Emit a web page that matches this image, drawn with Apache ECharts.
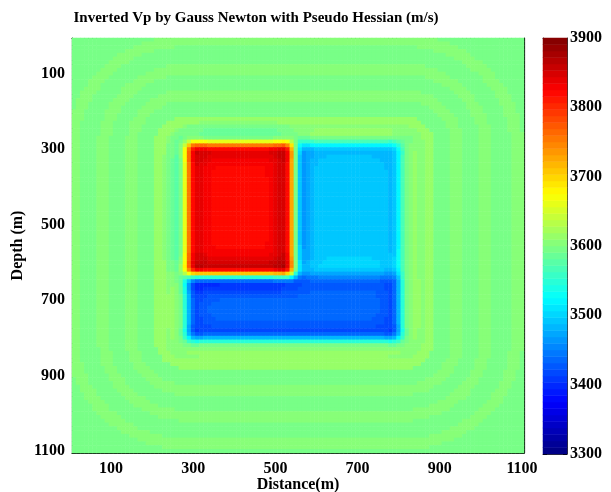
<!DOCTYPE html>
<html>
<head>
<meta charset="utf-8">
<script src="https://cdn.jsdelivr.net/npm/echarts@6/dist/echarts.min.js"></script>
<style>
  html, body { margin: 0; padding: 0; background: #fff; }
  #chart { width: 611px; height: 492px; }
</style>
</head>
<body>
<div id="chart"></div>
<script>
// Grid of the inverted model: 10 m cells, centres 10 … 1100 m
const distanceM = [];
const depthM = [];
for (let v = 10; v <= 1100; v += 10) { distanceM.push(v); depthM.push(v); }

// Background velocity (m/s)
const backgroundVp = 3596;

// Velocity blocks: high-velocity block, low-velocity block, low-velocity bar
const blockX0 = [285, 550, 285];
const blockX1 = [550, 810, 810];
const blockZ0 = [290, 290, 635];
const blockZ1 = [635, 635, 805];
const blockVp = [3822, 3495, 3435];

// Concentric artefact bands around the anomalies: outer edge of each band
// (m from the anomaly outline) and its velocity offset (m/s)
const ringEdge = [30, 52, 78, 119, 148, 187, 216, 262, 292, 400];
const ringDv   = [0, 8, 17, 0, 8, 0, 8, 0, 8, 0];

// Colour scale
const vpMin = 3300, vpMax = 3900, nLevels = 64;
const colorbarTicks = [3300, 3400, 3500, 3600, 3700, 3800, 3900];

// ---- build the velocity field -------------------------------------------
const N = distanceM.length;
const model = [];
for (let j = 0; j < N; j++) {
  const row = [];
  for (let i = 0; i < N; i++) {
    let v = backgroundVp;
    for (let b = 0; b < blockVp.length; b++) {
      if (distanceM[i] >= blockX0[b] && distanceM[i] < blockX1[b] &&
          depthM[j] >= blockZ0[b] && depthM[j] < blockZ1[b]) v = blockVp[b];
    }
    row.push(v);
  }
  model.push(row);
}

function gaussBlur(src, sigma) {
  const r = Math.ceil(sigma * 3);
  const k = [];
  let s = 0;
  for (let t = -r; t <= r; t++) { const w = Math.exp(-t * t / (2 * sigma * sigma)); k.push(w); s += w; }
  for (let t = 0; t < k.length; t++) k[t] /= s;
  const clamp = (a) => Math.max(0, Math.min(N - 1, a));
  const tmp = src.map(row => row.map((_, i) => {
    let acc = 0;
    for (let t = -r; t <= r; t++) acc += k[t + r] * row[clamp(i + t)];
    return acc;
  }));
  const out = [];
  for (let j = 0; j < N; j++) {
    const row = [];
    for (let i = 0; i < N; i++) {
      let acc = 0;
      for (let t = -r; t <= r; t++) acc += k[t + r] * tmp[clamp(j + t)][i];
      row.push(acc);
    }
    out.push(row);
  }
  return out;
}

// limited resolution of the inversion plus edge overshoot
const sharp = gaussBlur(model, 1.3);
const broad = gaussBlur(model, 3.0);
const outlineX0 = Math.min(...blockX0), outlineX1 = Math.max(...blockX1);
const outlineZ0 = Math.min(...blockZ0), outlineZ1 = Math.max(...blockZ1);

const fieldData = [];
for (let j = 0; j < N; j++) {
  for (let i = 0; i < N; i++) {
    let v = sharp[j][i] + 0.6 * (sharp[j][i] - broad[j][i]);
    const dx = Math.max(outlineX0 - distanceM[i], 0, distanceM[i] - outlineX1);
    const dz = Math.max(outlineZ0 - depthM[j], 0, depthM[j] - outlineZ1);
    const d = Math.sqrt(dx * dx + dz * dz);
    if (d > 0) {
      for (let b = 0; b < ringEdge.length; b++) {
        if (d < ringEdge[b]) { v += ringDv[b]; break; }
      }
    }
    v = Math.max(vpMin, Math.min(vpMax - 0.01, v));
    fieldData.push([i, j, Math.round(v * 10) / 10]);
  }
}

// ---- jet colour map (64 levels) -----------------------------------------
function jet(f) {
  const c = (x) => Math.round(255 * Math.max(0, Math.min(1, x)));
  return 'rgb(' + c(1.5 - Math.abs(4 * f - 3)) + ',' + c(1.5 - Math.abs(4 * f - 2)) + ',' + c(1.5 - Math.abs(4 * f - 1)) + ')';
}
const step = (vpMax - vpMin) / nLevels;
const pieces = [];
const levelNames = [];
const colorbarData = [];
for (let l = 0; l < nLevels; l++) {
  const lo = vpMin + l * step, hi = lo + step;
  const p = { gte: lo, color: jet((l + 0.5) / nLevels) };
  if (l === nLevels - 1) p.lte = hi; else p.lt = hi;
  pieces.push(p);
  levelNames.push(String(l));
  colorbarData.push([0, l, lo + step / 2]);
}

// ---- chart ----------------------------------------------------------------
const font = "'Liberation Serif', 'Times New Roman', serif";
const labelStyle = { fontFamily: font, fontWeight: 'bold', fontSize: 16, color: '#000' };
const nameStyle = { fontFamily: font, fontWeight: 'bold', fontSize: 16, color: '#000' };
const tickEvery = (idx, val) => (+val) % 200 === 100;
const axisLine = { show: true, lineStyle: { color: '#000', width: 1.2 } };
const tickIn = { show: true, inside: true, length: 4, alignWithLabel: true, interval: tickEvery, lineStyle: { color: '#000' } };

const chart = echarts.init(document.getElementById('chart'), null, { renderer: 'canvas' });
chart.setOption({
  animation: false,
  backgroundColor: '#fff',
  title: {
    text: 'Inverted Vp by Gauss Newton with Pseudo Hessian (m/s)',
    left: 251, top: 6, textAlign: 'center',
    textStyle: { fontFamily: font, fontWeight: 'bold', fontSize: 15, color: '#000' }
  },
  grid: [
    { left: 72, top: 38, width: 452, height: 415, containLabel: false, outerBoundsMode: 'none' },
    { left: 543, top: 38, width: 24, height: 416, containLabel: false, outerBoundsMode: 'none' }
  ],
  xAxis: [
    { type: 'category', gridIndex: 0, data: distanceM.map(String), position: 'bottom',
      axisLine, axisTick: tickIn,
      axisLabel: Object.assign({ interval: tickEvery, margin: 8 }, labelStyle),
      splitLine: { show: false },
      name: 'Distance(m)', nameLocation: 'middle', nameGap: 24, nameMoveOverlap: false,
      nameTextStyle: nameStyle },
    { type: 'category', gridIndex: 0, data: distanceM.map(String), position: 'top',
      axisLine, axisTick: tickIn, axisLabel: { show: false } },
    { type: 'category', gridIndex: 1, data: ['c'], position: 'bottom',
      axisLine: { show: true, lineStyle: { color: '#333' } }, axisTick: { show: false }, axisLabel: { show: false } },
    { type: 'category', gridIndex: 1, data: ['c'], position: 'top',
      axisLine: { show: true, lineStyle: { color: '#333' } }, axisTick: { show: false }, axisLabel: { show: false } }
  ],
  yAxis: [
    { type: 'category', gridIndex: 0, data: depthM.map(String), inverse: true, position: 'left',
      axisLine, axisTick: tickIn,
      axisLabel: Object.assign({ interval: tickEvery, margin: 7 }, labelStyle),
      name: 'Depth (m)', nameLocation: 'middle', nameGap: 46, nameMoveOverlap: false,
      nameTextStyle: nameStyle },
    { type: 'category', gridIndex: 0, data: depthM.map(String), inverse: true, position: 'right',
      axisLine, axisTick: tickIn, axisLabel: { show: false } },
    { type: 'category', gridIndex: 1, data: levelNames, show: false },
    { type: 'value', gridIndex: 1, position: 'right', min: vpMin, max: vpMax, interval: 100,
      axisLine: { show: true, lineStyle: { color: '#333' } },
      axisTick: { show: true, inside: true, length: 4, lineStyle: { color: '#000' } },
      axisLabel: Object.assign({ margin: 3, formatter: (v) => colorbarTicks.includes(v) ? String(v) : '' }, labelStyle),
      splitLine: { show: false } },
    { type: 'value', gridIndex: 1, position: 'left', min: vpMin, max: vpMax, interval: 100,
      axisLine: { show: true, lineStyle: { color: '#333' } },
      axisTick: { show: true, inside: true, length: 4, lineStyle: { color: '#000' } },
      axisLabel: { show: false }, splitLine: { show: false } }
  ],
  visualMap: {
    type: 'piecewise', show: false, pieces: pieces, seriesIndex: [0, 1], dimension: 2
  },
  series: [
    { type: 'heatmap', xAxisIndex: 0, yAxisIndex: 0, data: fieldData, progressive: 0 },
    { type: 'heatmap', xAxisIndex: 2, yAxisIndex: 2, data: colorbarData, progressive: 0 }
  ]
});
</script>
</body>
</html>
